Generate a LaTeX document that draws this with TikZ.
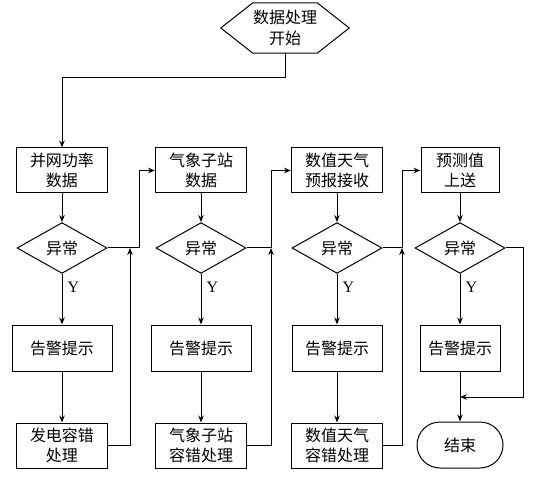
\documentclass[tikz,border=0pt]{standalone}
\usepackage{fontspec}
\setmainfont{Liberation Serif}
\newfontfamily\cjkfont{Noto Sans CJK SC}
\usetikzlibrary{arrows.meta,shapes.geometric,shapes.misc}

\tikzset{
	label text/.style={font=\cjkfont\fontsize{16}{20.5}\selectfont, align=center, inner sep=1pt},
	box/.style={label text, draw, line width=1pt, minimum width=91pt, minimum height=45pt},
	test/.style={label text, draw, diamond, line width=1pt, minimum width=90pt, minimum height=50pt},
	terminal/.style={label text, draw, rounded rectangle, line width=1pt, minimum width=88pt, minimum height=46pt},
	post/.style={line width=1pt, -{Stealth[length=7pt, width=5.5pt]}},
	line/.style={line width=1pt}
}

\begin{document}
\begin{tikzpicture}[x=1pt, y=-1pt]
	\useasboundingbox (0, 0) rectangle (533, 481);

	\node [label text, minimum width=128pt, minimum height=50pt]	(Start)	at (285, 28) {数据处理\\开始};
	\draw [line] (Start.west) -- ([xshift=32pt]Start.north west) -- ([xshift=-32pt]Start.north east)
		-- (Start.east) -- ([xshift=-32pt]Start.south east) -- ([xshift=32pt]Start.south west) -- cycle;

	\node [box]						(PowerData)		at (62, 170.5)	{并网功率\\数据};
	\node [box]						(StationData)	at (201, 170.5)	{气象子站\\数据};
	\node [box]						(ForecastData)	at (337, 170.5)	{数值天气\\预报接收};
	\node [box, minimum width=78pt]	(Upload)		at (460, 170.5)	{预测值\\上送};

	\node [test]	(PowerCheck)	at (62, 248)	{异常};
	\node [test]	(StationCheck)	at (201, 248)	{异常};
	\node [test]	(ForecastCheck)	at (337, 248)	{异常};
	\node [test]	(UploadCheck)	at (460, 248)	{异常};

	\node [box, minimum width=100pt, minimum height=46pt]	(PowerAlarm)	at (62, 348)	{告警提示};
	\node [box, minimum width=100pt, minimum height=46pt]	(StationAlarm)	at (201, 348)	{告警提示};
	\node [box, minimum width=90pt, minimum height=46pt]	(ForecastAlarm)	at (337, 348)	{告警提示};
	\node [box, minimum width=80pt, minimum height=46pt]	(UploadAlarm)	at (460, 348)	{告警提示};

	\node [box]			(PowerFix)		at (62, 445.5)	{发电容错\\处理};
	\node [box]			(StationFix)	at (201, 445.5)	{气象子站\\容错处理};
	\node [box]			(ForecastFix)	at (337, 445.5)	{数值天气\\容错处理};
	\node [terminal]	(End)			at (460, 445)	{结束};

	\coordinate (PowerJoin)		at (130, 248);
	\coordinate (PowerTurn)		at (139, 248);
	\coordinate (StationJoin)	at (271, 248);
	\coordinate (ForecastJoin)	at (402, 248);
	\coordinate (UploadBack)	at (523, 397);

	\draw [post] (Start.south) -- ++(0, 24) -| (PowerData.north);

	\foreach \col in {Power, Station, Forecast} {
		\draw [post] (\col Data) -- (\col Check);
		\draw [post] (\col Check) -- node [pos=0.27, right=5pt, font=\fontsize{16}{18}\selectfont, inner sep=0pt] {Y} (\col Alarm);
		\draw [post] (\col Alarm) -- (\col Fix);
		\draw [post] (\col Fix.east) -| (\col Join);
	}
	\draw [post] (Upload) -- (UploadCheck);
	\draw [post] (UploadCheck) -- node [pos=0.27, right=5pt, font=\fontsize{16}{18}\selectfont, inner sep=0pt] {Y} (UploadAlarm);
	\draw [post] (UploadAlarm) -- (End);

	\draw [post] (PowerCheck.east) -- (PowerTurn) |- (StationData.west);
	\draw [post] (StationCheck.east) -- (StationJoin) |- (ForecastData.west);
	\draw [post] (ForecastCheck.east) -- (ForecastJoin) |- (Upload.west);
	\draw [post] (UploadCheck.east) -| (UploadBack) -- (UploadBack -| End);
\end{tikzpicture}
\end{document}
